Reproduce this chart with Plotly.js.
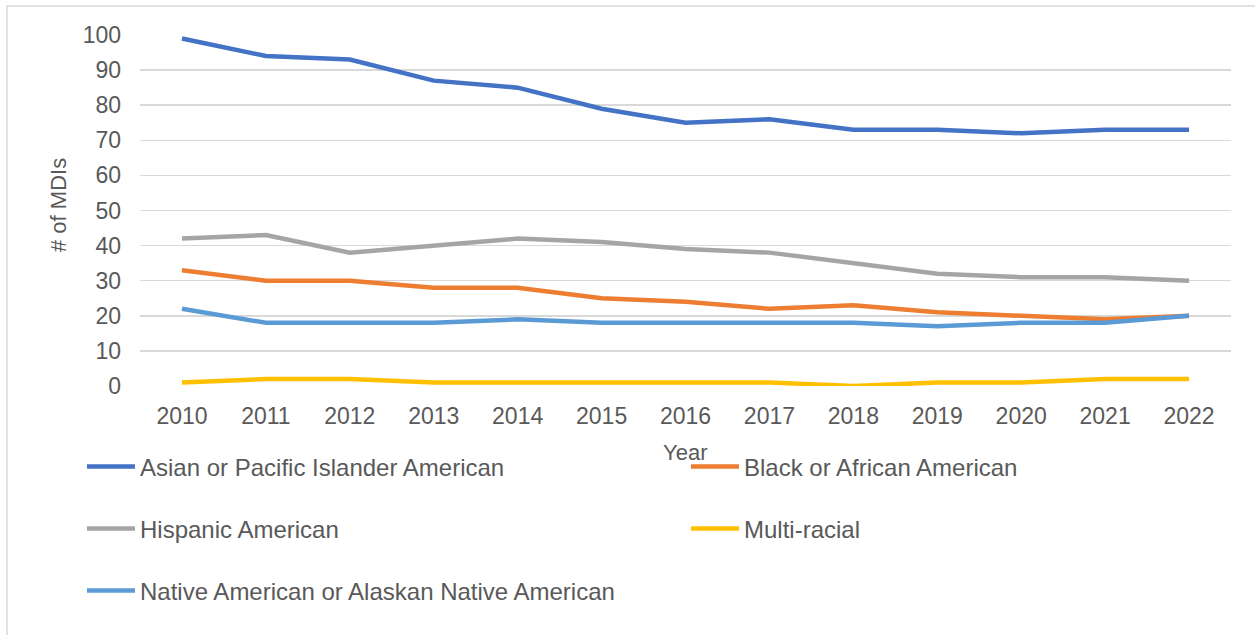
<!DOCTYPE html>
<html>
<head>
<meta charset="utf-8">
<script src="https://cdn.plot.ly/plotly-3.0.1.min.js"></script>
<style>html,body{margin:0;padding:0;background:#fff;}#chart{width:1255px;height:635px;}</style>
</head>
<body>
<div id="chart"></div>
<script>
const years = ["2010","2011","2012","2013","2014","2015","2016","2017","2018","2019","2020","2021","2022"];
const asianPacific = [99, 94, 93, 87, 85, 79, 75, 76, 73, 73, 72, 73, 73];
const blackAfrican = [33, 30, 30, 28, 28, 25, 24, 22, 23, 21, 20, 19, 20];
const hispanic = [42, 43, 38, 40, 42, 41, 39, 38, 35, 32, 31, 31, 30];
const multiRacial = [1, 2, 2, 1, 1, 1, 1, 1, 0, 1, 1, 2, 2];
const nativeAlaskan = [22, 18, 18, 18, 19, 18, 18, 18, 18, 17, 18, 18, 20];
const seriesNames = ["Asian or Pacific Islander American","Black or African American","Hispanic American","Multi-racial","Native American or Alaskan Native American"];
const seriesColors = ["#4472C4","#ED7D31","#A5A5A5","#FFC000","#5B9BD5"];
const yTicks = [0,10,20,30,40,50,60,70,80,90,100];
const xTitle = "Year";
const yTitle = "# of MDIs";

const allValues = [asianPacific, blackAfrican, hispanic, multiRacial, nativeAlaskan];
const legendIds = ["legend","legend2","legend3","legend4","legend5"];
const traces = allValues.map((v, i) => ({
  type: "scatter",
  mode: "lines",
  x: years,
  y: v,
  name: seriesNames[i],
  legend: legendIds[i],
  line: {color: seriesColors[i], width: 4.5, shape: "linear"},
  hoverinfo: "x+y+name"
}));

const family = "Liberation Sans, Arial, sans-serif";
const tickFont = {family: family, size: 23, color: "#595959"};
const titleFont = {family: family, size: 22, color: "#595959"};
const legFont = {family: family, size: 24, color: "#595959"};
function leg(px, py) {
  return {
    orientation: "h",
    xref: "container", yref: "container",
    x: px/1255, y: 1 - py/635, xanchor: "left", yanchor: "middle",
    itemwidth: 48,
    font: legFont, bgcolor: "rgba(0,0,0,0)", borderwidth: 0
  };
}
const col1 = 82, col2 = 686;
const L = 140, R = 1231, T = 35, B = 386;
const pw = R - L, ph = B - T;

const layout = {
  width: 1255, height: 635,
  margin: {l: L, r: 1255 - R, t: T, b: 635 - B},
  paper_bgcolor: "#ffffff", plot_bgcolor: "#ffffff",
  font: tickFont,
  showlegend: true,
  xaxis: {
    type: "category",
    range: [-0.5, 12.5],
    tickvals: years, ticktext: years,
    showgrid: false, zeroline: false,
    showline: false,
    ticks: "", ticklabelstandoff: 14,
    tickfont: tickFont,
    automargin: false
  },
  yaxis: {
    range: [0, 100],
    tickvals: yTicks,
    showgrid: true, gridcolor: "#D9D9D9", gridwidth: 1.5,
    zeroline: false, showline: false,
    ticks: "", ticklabelstandoff: 18,
    tickfont: tickFont,
    automargin: false
  },
  annotations: [
    {text: xTitle, xref: "paper", yref: "paper", x: (685 - L)/pw, y: (B - 452)/ph,
     xanchor: "center", yanchor: "middle", showarrow: false, font: titleFont},
    {text: yTitle, xref: "paper", yref: "paper", x: (58 - L)/pw, y: (B - 205)/ph,
     xanchor: "center", yanchor: "middle", textangle: -90, showarrow: false, font: titleFont}
  ],
  legend: leg(col1, 467),
  legend2: leg(col2, 467),
  legend3: leg(col1, 529),
  legend4: leg(col2, 529),
  legend5: leg(col1, 591),
  shapes: [{
    type: "rect", xref: "paper", yref: "paper",
    x0: (7 - L)/pw, x1: (1262 - L)/pw,
    y0: (B - 645)/ph, y1: (B - 6)/ph,
    line: {color: "#D9D9D9", width: 1.5}, fillcolor: "rgba(0,0,0,0)", layer: "below"
  }]
};

Plotly.newPlot("chart", traces, layout, {displayModeBar: false, staticPlot: true});
</script>
</body>
</html>
